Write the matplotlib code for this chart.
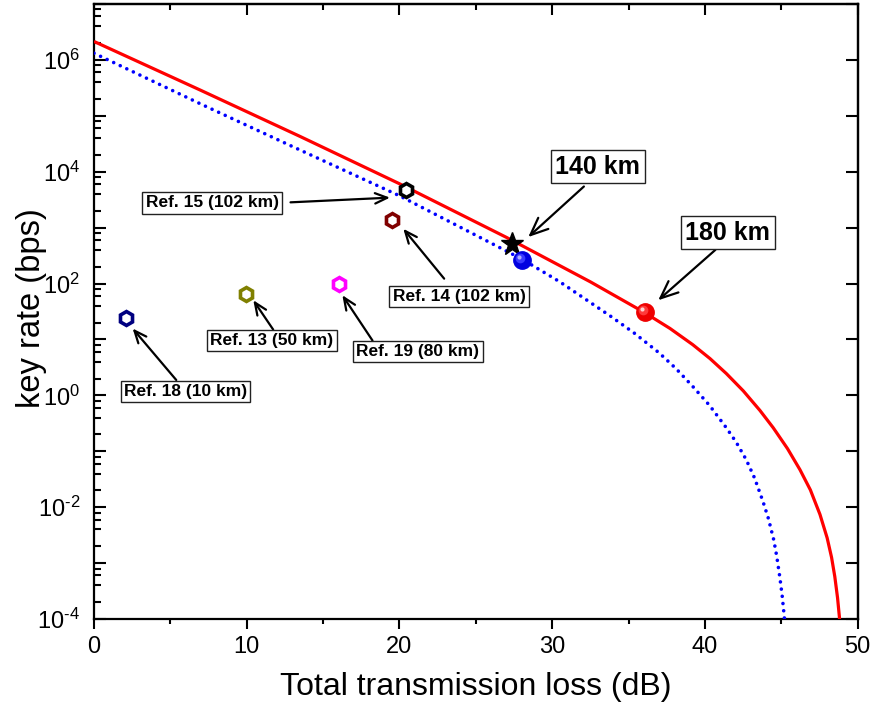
import numpy as np
import matplotlib
matplotlib.use("Agg")
import matplotlib.pyplot as plt
from matplotlib.ticker import LogLocator, FuncFormatter, MultipleLocator, NullLocator, NullFormatter
from matplotlib.transforms import ScaledTranslation

plt.rcParams['font.family'] = ['Liberation Sans', 'DejaVu Sans']
plt.rcParams['mathtext.fontset'] = 'custom'
plt.rcParams['mathtext.rm'] = 'Liberation Sans'

# ---------------- data ----------------
loss_red = [0, 7, 13.5, 20, 27, 32.5, 36, 37.71, 39.2, 40.33, 41.4, 42.51, 43.6, 44.47,
            45.4, 46.22, 46.9, 47.53, 48.0, 48.29, 48.5, 48.68, 48.8, 48.86]
rate_red = [2.138e6, 2.851e5, 4.266e4, 6095, 669.9, 107.2, 30.76, 15.74, 8.072, 4.55,
            2.455, 1.202, 0.537, 0.263, 0.112, 0.0468, 0.0204, 7.41e-3, 2.82e-3,
            1.26e-3, 5.75e-4, 2.40e-4, 1.10e-4, 6.3e-5]

loss_blue = [0, 7, 13, 20, 28, 30.5, 33.8, 35.4, 37, 38.1, 39.2, 40.3, 41.4, 42.05,
             42.7, 43.25, 43.8, 44.15, 44.5, 44.7, 44.9, 45.05, 45.2, 45.25]
rate_blue = [1.318e6, 1.622e5, 2.818e4, 3715, 275.4, 107.2, 26.3, 12.82, 5.754, 3.02,
             1.445, 0.661, 0.263, 0.1445, 0.0708, 0.0331, 0.0126, 6.31e-3, 2.63e-3,
             1.32e-3, 5.62e-4, 2.69e-4, 1.05e-4, 6.3e-5]

ref_labels = ['Ref. 18 (10 km)', 'Ref. 13 (50 km)', 'Ref. 19 (80 km)',
              'Ref. 14 (102 km)', 'Ref. 15 (102 km)']
ref_loss = [2.07, 9.93, 16.04, 19.49, 20.43]
ref_rate = [24.5, 66, 98, 1380, 4630]
ref_colors = ['#000080', '#808000', '#ff00ff', '#800000', '#000000']

star_loss = [27.35]
star_rate = [513]
blue_pt_loss = [28.0]
blue_pt_rate = [263]
red_pt_loss = [36.07]
red_pt_rate = [31]

xticks = [0, 10, 20, 30, 40, 50]

# ---------------- figure ----------------
fig = plt.figure(figsize=(8.76, 7.13), dpi=100)
ax = fig.add_axes([94/876, 1-619/713, (857.7-94)/876, (619-4)/713])
ax.set_yscale('log')
ax.set_xlim(0, 50)
ax.set_ylim(1e-4, 1e7)

ax.plot(loss_red, rate_red, color='#ff0000', lw=2.3, solid_capstyle='butt',
        solid_joinstyle='round', zorder=3)
ax.plot(loss_blue, rate_blue, color='#0000ff', lw=2.6, linestyle=(0, (0.01, 2.0)),
        dash_capstyle='round', zorder=3)

for xl, yr, c in zip(ref_loss, ref_rate, ref_colors):
    ax.plot([xl], [yr], marker='h', ms=10, mfc='white', mec=c, mew=2.6, ls='none', zorder=6)

ax.plot(star_loss, star_rate, marker='*', ms=17, color='black', ls='none', zorder=6)


def sphere(xs, ys, base, mid, light):
    ax.plot(xs, ys, 'o', ms=12.5, mfc=base, mec=base, zorder=7)
    t1 = ax.transData + ScaledTranslation(-1.2/72, 1.2/72, fig.dpi_scale_trans)
    ax.plot(xs, ys, 'o', ms=7, mfc=mid, mec='none', transform=t1, zorder=8)
    t2 = ax.transData + ScaledTranslation(-2.2/72, 2.2/72, fig.dpi_scale_trans)
    ax.plot(xs, ys, 'o', ms=3, mfc=light, mec='none', transform=t2, zorder=9)


sphere(blue_pt_loss, blue_pt_rate, '#0000e0', '#3a3aff', '#b0b0ff')
sphere(red_pt_loss, red_pt_rate, '#ee0000', '#ff3a3a', '#ffd0d0')

# ---------------- annotations ----------------
def note(text, xy, xytext, relpos, size=12.5, shrinkA=0):
    ax.annotate(text, xy=xy, xytext=xytext, ha='center', va='center',
                fontsize=size, fontweight='bold',
                bbox=dict(boxstyle='square,pad=0.18', fc='white', ec='#222222', lw=1.0),
                arrowprops=dict(arrowstyle='->,head_length=0.7,head_width=0.3', color='black',
                                lw=1.6, relpos=relpos, shrinkA=shrinkA, shrinkB=0),
                zorder=10)

note(ref_labels[0], (2.53, 15.7), (5.99, 1.19), (0.45, 1.0))
note(ref_labels[1], (10.43, 50.3), (11.65, 9.5), (0.53, 1.0))
note(ref_labels[2], (16.26, 61.9), (21.21, 6.05), (0.15, 1.0))
note(ref_labels[3], (20.25, 955), (23.9, 59.3), (0.45, 1.0), shrinkA=6)
note(ref_labels[4], (19.38, 3440), (7.73, 2770), (1.0, 0.5), shrinkA=6)
note('140 km', (28.43, 679), (32.97, 1.23e4), (0.44, 0.0), size=18, shrinkA=3)
note('180 km', (36.94, 50.3), (41.5, 807), (0.42, 0.0), size=18)

# ---------------- axes styling ----------------
for s in ax.spines.values():
    s.set_linewidth(1.6)

ax.xaxis.set_major_locator(MultipleLocator(10))
ax.xaxis.set_minor_locator(MultipleLocator(5))
ax.set_xticks(xticks)
ax.set_xticklabels([str(v) for v in xticks])
ax.yaxis.set_major_locator(LogLocator(base=10, numticks=30))
ax.yaxis.set_minor_locator(LogLocator(base=10, subs=[2, 4, 6, 8], numticks=30))
ax.yaxis.set_minor_formatter(NullFormatter())


def yfmt(v, pos):
    e = int(round(np.log10(v)))
    if e % 2:
        return ''
    es = str(e).replace('-', '\u2010')
    return r'$\mathregular{10^{%s}}$' % es


ax.yaxis.set_major_formatter(FuncFormatter(yfmt))

ax.tick_params(axis='x', which='major', direction='out', length=7.2, width=1.5,
               labelsize=17, pad=5, top=False)
ax.tick_params(axis='x', which='minor', direction='out', length=3.6, width=1.5, top=False)
ax.tick_params(axis='y', which='major', direction='in', length=8.4, width=1.5,
               labelsize=17, pad=10, right=False)
ax.tick_params(axis='y', which='minor', direction='in', length=4.8, width=1.5, right=False)

secx = ax.secondary_xaxis('top')
secx.xaxis.set_major_locator(MultipleLocator(10))
secx.xaxis.set_minor_locator(MultipleLocator(5))
secx.tick_params(which='major', direction='in', length=8, width=1.5, labeltop=False)
secx.tick_params(which='minor', direction='in', length=4, width=1.5)
secx.spines['top'].set_linewidth(1.6)

secy = ax.secondary_yaxis('right')
secy.set_yscale('log')
secy.yaxis.set_major_locator(LogLocator(base=10, numticks=30))
secy.yaxis.set_minor_locator(NullLocator())
secy.tick_params(which='major', direction='in', length=8.4, width=1.5, labelright=False)
secy.spines['right'].set_linewidth(1.6)

ax.set_xlabel('Total transmission loss (dB)', fontsize=23)
ax.set_ylabel('key rate (bps)', fontsize=23.5)
ax.xaxis.set_label_coords(0.5, -0.086)
ax.yaxis.set_label_coords(-0.062, 0.505)

fig.savefig('out.png', dpi=100)
